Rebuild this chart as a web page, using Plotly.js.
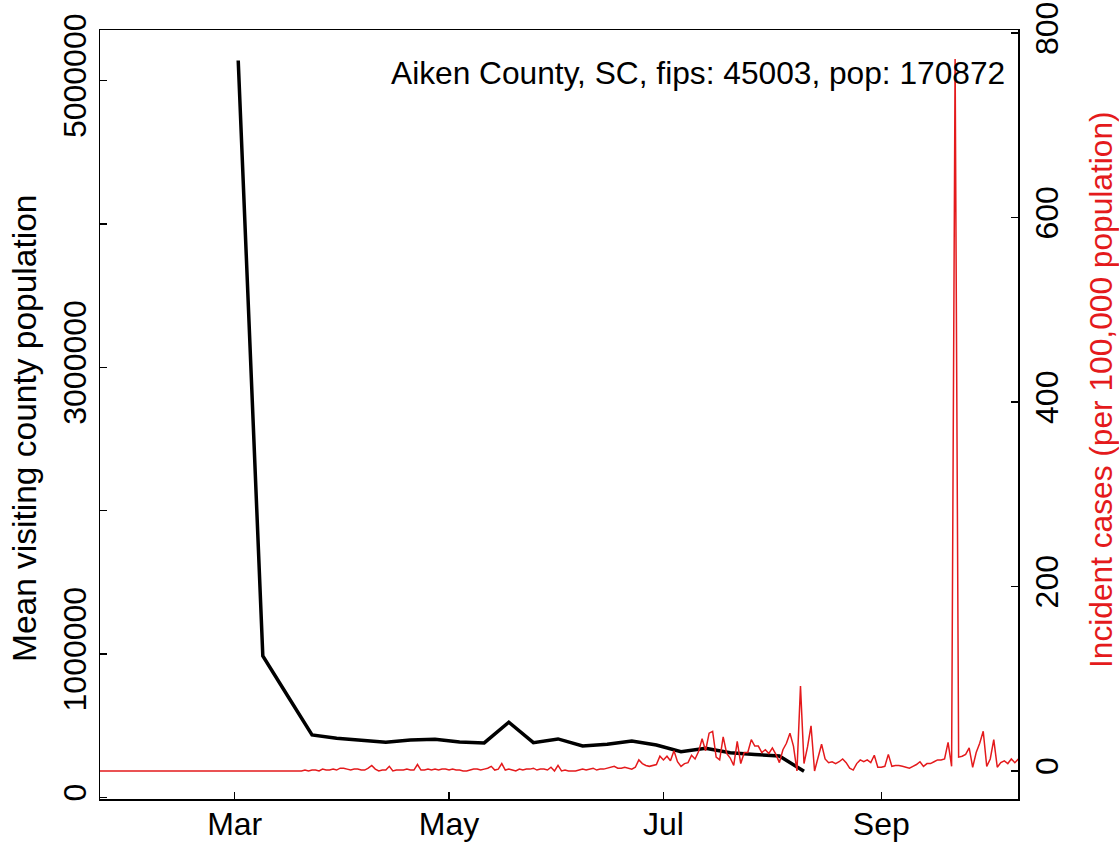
<!DOCTYPE html>
<html>
<head>
<meta charset="utf-8">
<script src="https://cdn.plot.ly/plotly-3.0.1.min.js"></script>
<style>html,body{margin:0;padding:0;background:#fff;}#chart{width:1119px;height:843px;}</style>
</head>
<body>
<div id="chart"></div>
<script>
// Weekly mean visiting county population (left axis)
const visitDates = ["2020-03-02","2020-03-09","2020-03-16","2020-03-23","2020-03-30",
  "2020-04-06","2020-04-13","2020-04-20","2020-04-27",
  "2020-05-04","2020-05-11","2020-05-18","2020-05-25",
  "2020-06-01","2020-06-08","2020-06-15","2020-06-22","2020-06-29",
  "2020-07-06","2020-07-13","2020-07-20","2020-07-27",
  "2020-08-03","2020-08-10"];
const visitValues = [5140000, 986000, 710000, 435000, 412000,
  395000, 384000, 400000, 405000,
  386000, 379000, 524000, 381000,
  407000, 358000, 370000, 393000, 365000,
  318000, 342000, 311000, 299000,
  288000, 181000];

// Daily incident cases per 100,000 (right axis), starting 2020-01-22
const caseStart = "2020-01-22";
const caseValues = [
  0,0,0,0,0,0,0,0,0,0, 0,0,0,0,0,0,0,0,0,0, 0,0,0,0,0,0,0,0,0,0,
  0,0,0,0,0,0,0,0,0,0, 0,0,0,0,0,0,0,0,0,0, 0,0,0,0,0,0,0,0,
  0,1,0,1,1,0,2,1,1,2,1,
  3,3,2,1,2,2,1,1,3,6,2,0,1,1,5,0,1,1,1,2,1,1,7,1,1,2,1,2,1,2,2,1,2,1,1,0,0,1,2,2,1,2,3,5,1,2,8,1,2,1,0,2,1,2,2,3,1,2,2,1,4,0,6,0,1,0,0,0,1,2,1,2,3,1,
  2,2,3,4,5,3,3,4,3,2, 4,12,8,6,5,6,7,16,12,16, 11,22,10,5,8,9,17,13,21,35,
  22,41,43,15,12,37,19,14,6,32, 8,20,20,34,27,27,20,23,19,25, 18,9,23,30,41,27,0,92,8,26,
  49,0,15,29,13,
  9,10,8,10,13,9,3,1,8,12, 10,12,9,17,4,4,5,18,5,6, 6,5,4,3,5,7,10,5,8,8,
  10,12,12,13,31,5,772,15,16,18, 25,4,20,30,43,5,13,34,4,9, 11,8,13,9,13
];

// Axis tick labels and titles
const monthTicks = ["2020-03-01","2020-05-01","2020-07-01","2020-09-01"];
const monthLabels = ["Mar","May","Jul","Sep"];
const leftTicks = [0,1000000,2000000,3000000,4000000,5000000];
const leftLabels = ["0","1000000","","3000000","","5000000"];
const rightTicks = [0,200,400,600,800];
const rightLabels = ["0","200","400","600","800"];
const leftTitle = "Mean visiting county population";
const rightTitle = "Incident cases (per 100,000 population)";
const panelLabel = "Aiken County, SC, fips: 45003, pop: 170872";

const caseDates = [];
(function(){
  const d0 = new Date(caseStart + "T00:00:00Z");
  for (let i = 0; i < caseValues.length; i++) {
    const d = new Date(d0.getTime() + i * 86400000);
    caseDates.push(d.toISOString().slice(0,10));
  }
})();

const FONT = "Liberation Sans, Arial, Helvetica, sans-serif";
const RED = "#e41a1c";

const traces = [
  {x: caseDates, y: caseValues, type: "scatter", mode: "lines", yaxis: "y2",
   line: {color: RED, width: 1.5}, hoverinfo: "skip"},
  {x: visitDates, y: visitValues, type: "scatter", mode: "lines", yaxis: "y",
   line: {color: "#000", width: 3.5}, hoverinfo: "skip"}
];

const layout = {
  width: 1119, height: 843,
  margin: {l: 100, r: 101, t: 30, b: 44, pad: 0},
  paper_bgcolor: "#fff", plot_bgcolor: "#fff",
  showlegend: false,
  font: {family: FONT, size: 32, color: "#000"},
  xaxis: {
    type: "date", range: ["2020-01-22 16:00", "2020-10-09 21:30"],
    tickvals: monthTicks, ticktext: monthLabels,
    ticks: "inside", ticklen: 7, tickwidth: 1.5, tickcolor: "#000",
    showgrid: false, zeroline: false,
    showline: true, mirror: true, linecolor: "#000", linewidth: 1.5,
    tickfont: {family: FONT, size: 32, color: "#000"},
    ticklabelstandoff: -4
  },
  yaxis: {
    range: [-12000, 5353000],
    tickvals: leftTicks, ticktext: leftLabels, tickangle: -90,
    ticks: "inside", ticklen: 7, tickwidth: 1.5, tickcolor: "#000",
    showgrid: false, zeroline: false,
    showline: true, linecolor: "#000", linewidth: 1.5,
    tickfont: {family: FONT, size: 32, color: "#000"}
  },
  yaxis2: {
    range: [-30.4, 803.4], overlaying: "y", side: "right", anchor: "x",
    tickvals: rightTicks, ticktext: rightLabels, tickangle: -90,
    ticks: "inside", ticklen: 7, tickwidth: 1.5, tickcolor: "#000",
    showgrid: false, zeroline: false,
    showline: true, linecolor: "#000", linewidth: 1.5,
    tickfont: {family: FONT, size: 32, color: "#000"}
  },
  annotations: [
    {xref: "paper", yref: "paper", x: 0.988, y: 0.944,
     xanchor: "right", yanchor: "middle", showarrow: false,
     text: panelLabel, font: {family: FONT, size: 31.7, color: "#000"}},
    {xref: "paper", yref: "paper", x: -0.0828, y: 0.4824,
     xanchor: "center", yanchor: "middle", showarrow: false, textangle: -90,
     text: leftTitle, font: {family: FONT, size: 33.5, color: "#000"}},
    {xref: "paper", yref: "paper", x: 1.0905, y: 0.5319,
     xanchor: "center", yanchor: "middle", showarrow: false, textangle: -90,
     text: rightTitle, font: {family: FONT, size: 31.7, color: RED}}
  ]
};

Plotly.newPlot("chart", traces, layout, {staticPlot: true, displayModeBar: false});
</script>
</body>
</html>
